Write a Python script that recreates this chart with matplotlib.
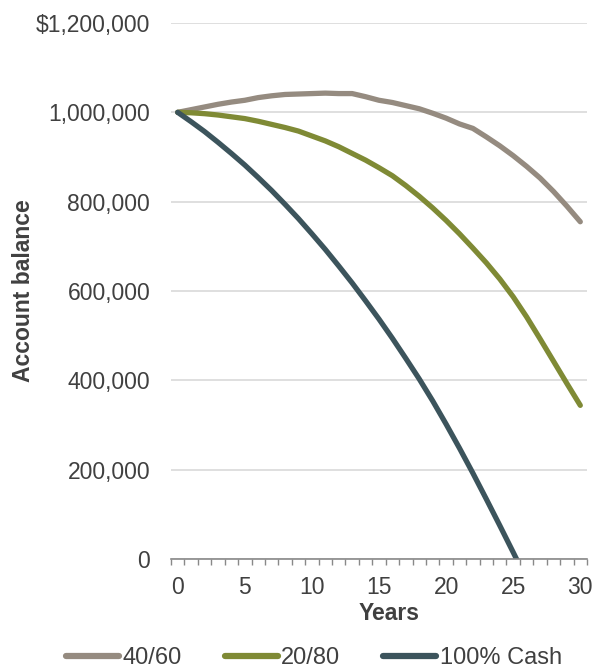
import matplotlib
matplotlib.use("Agg")
import matplotlib.pyplot as plt
from matplotlib.ticker import FuncFormatter, MultipleLocator

plt.rcParams['font.family'] = ['Liberation Sans', 'DejaVu Sans']

# Years 0..30
years = list(range(31))

# account balance by portfolio (dollars)
bal_40_60 = [1000000, 1006000, 1012000, 1018000, 1023000, 1027000, 1033000, 1037000,
             1040000, 1041000, 1042000, 1043000, 1042000, 1042000, 1035000, 1027000,
             1022000, 1015000, 1008000, 998000, 987000, 974000, 964000, 945000,
             925000, 903000, 879000, 853000, 823000, 790000, 755000]
bal_20_80 = [1000000, 999000, 997000, 994000, 990000, 986000, 980000, 973000,
             966000, 958000, 947000, 936000, 923000, 908000, 893000, 876000,
             858000, 836000, 812000, 786000, 758000, 728000, 696000, 663000,
             627000, 587000, 542000, 493000, 443000, 393000, 344000]
# cash runs out a little after year 25 (last point falls below the axis)
cash_years = list(range(27))
bal_cash = [1000000, 979000, 957000, 933000, 908000, 882000, 854000, 825000,
            794000, 762000, 728000, 693000, 656000, 618000, 578000, 537000,
            494000, 449000, 403000, 354000, 302000, 248000, 192000, 134000,
            75000, 15000, -46000]

labels = ['40/60', '20/80', '100% Cash']
colors = ['#958b80', '#7f8a35', '#3c545c']
text_color = '#404040'

fig = plt.figure(figsize=(5.96, 6.72), dpi=100)
ax = fig.add_axes([171 / 596, 1 - 559 / 672, 416 / 596, 536 / 672])

lw = 3.8
ax.plot(years, bal_40_60, color=colors[0], lw=lw, solid_capstyle='round', label=labels[0])
ax.plot(years, bal_20_80, color=colors[1], lw=lw, solid_capstyle='round', label=labels[1])
ax.plot(cash_years, bal_cash, color=colors[2], lw=lw, solid_capstyle='round', label=labels[2])

ax.set_xlim(-0.5, 30.5)
ax.set_ylim(0, 1200000)
ax.set_xticks(range(0, 31, 5))
ax.xaxis.set_minor_locator(MultipleLocator(1, offset=0.5))
ax.set_yticks(range(0, 1200001, 200000))

def ylab(v, pos):
    if v >= 1200000:
        return r'\$1,200,000'
    return f'{v:,.0f}'

ax.yaxis.set_major_formatter(FuncFormatter(ylab))
ax.grid(axis='y', color='#d9d9d9', lw=1.2)
ax.set_axisbelow(True)

for s in ['top', 'right', 'left']:
    ax.spines[s].set_visible(False)
ax.spines['bottom'].set_color('#898989')
ax.spines['bottom'].set_linewidth(1.2)

ax.tick_params(axis='x', which='major', length=0, pad=12, labelsize=16.5, labelcolor=text_color)
ax.tick_params(axis='x', which='minor', length=4.5, width=1, color='#898989', direction='out')
ax.tick_params(axis='y', length=0, pad=15, labelsize=16.5, labelcolor=text_color)

ax.set_xlabel('Years', fontsize=16.5, fontweight='bold', color=text_color)
ax.xaxis.set_label_coords(0.524, -0.08)
ax.set_ylabel('Account balance', fontsize=16.5, fontweight='bold', color=text_color)
ax.yaxis.set_label_coords(-0.328, 0.5)

leg = fig.legend(loc='center', bbox_to_anchor=(314 / 596, 1 - 658 / 672), ncol=3,
                 frameon=False, fontsize=17, handlelength=2.25, handletextpad=0.15,
                 columnspacing=1.8, borderaxespad=0, borderpad=0)
for t in leg.get_texts():
    t.set_color(text_color)
for h in leg.legend_handles:
    h.set_linewidth(4.5)
    h.set_solid_capstyle('round')

fig.savefig('out.png', dpi=100)
